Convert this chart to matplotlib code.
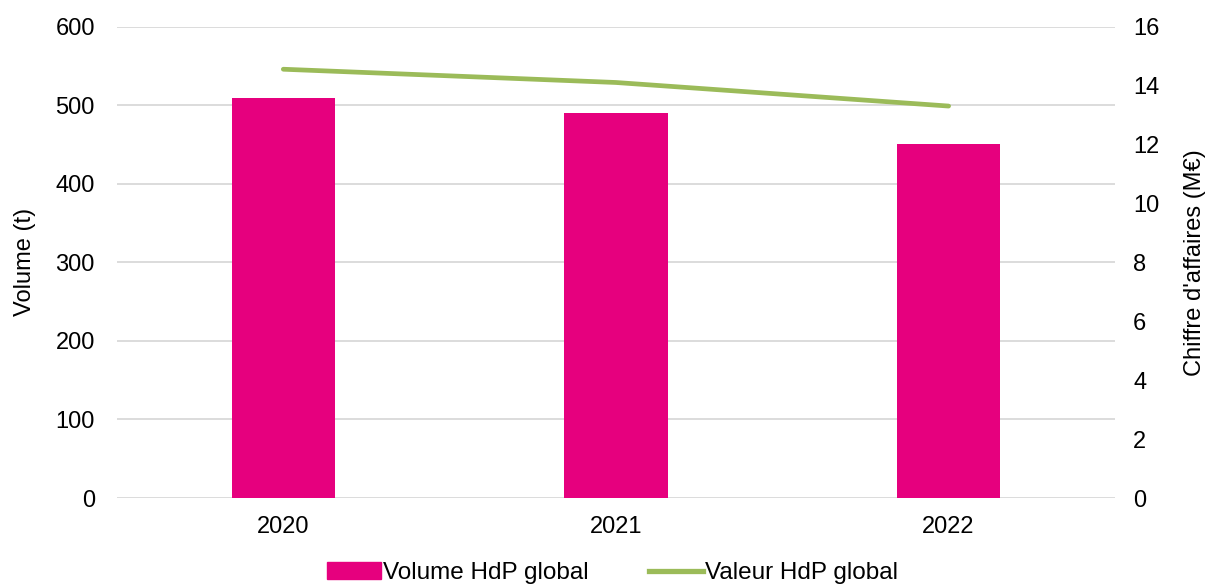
import matplotlib.pyplot as plt
from matplotlib.lines import Line2D
from matplotlib.patches import Patch

# Données
annees = ["2020", "2021", "2022"]
volume_t = [509, 490, 451]
valeur_meur = [14.55, 14.1, 13.3]

rose = "#E6007E"
vert = "#9BBB59"
grille = "#D9D9D9"

plt.rcParams["font.family"] = ["Liberation Sans", "DejaVu Sans"]
plt.rcParams["font.size"] = 17

fig = plt.figure(figsize=(12.06, 5.85), dpi=100)
ax = fig.add_axes([0.097, 0.1487, 0.8275, 0.806])
ax2 = ax.twinx()

x = range(len(annees))
ax.bar(x, volume_t, width=0.31, color=rose, zorder=2)
ax2.plot(x, valeur_meur, color=vert, lw=3.4, solid_capstyle="round", zorder=3)

ax.set_xlim(-0.5, 2.5)
ax.set_ylim(0, 600)
ax.set_yticks(range(0, 601, 100))
ax2.set_ylim(0, 16)
ax2.set_yticks(range(0, 17, 2))
ax.set_xticks(list(x))
ax.set_xticklabels(annees)

ax.yaxis.grid(True, color=grille, lw=1.3, zorder=0)
ax.set_axisbelow(True)
for a in (ax, ax2):
    for s in a.spines.values():
        s.set_visible(False)
    a.tick_params(length=0, colors="black", labelsize=17)
ax.tick_params(axis="y", pad=16)
ax.tick_params(axis="x", pad=13)
ax2.tick_params(axis="y", pad=13)

ax.set_ylabel("Volume (t)", fontsize=17, labelpad=14)
ax2.set_ylabel("Chiffre d'affaires (M€)", fontsize=17, labelpad=18)

poignees = [Patch(color=rose), Line2D([0], [0], color=vert, lw=3.8)]
fig.legend(poignees, ["Volume HdP global", "Valeur HdP global"],
           loc="lower center", bbox_to_anchor=(0.508, -0.036), ncol=2, frameon=False,
           fontsize=17.5, handlelength=2.2, handletextpad=0.1, columnspacing=2.5)

fig.savefig("out.png", dpi=100)
